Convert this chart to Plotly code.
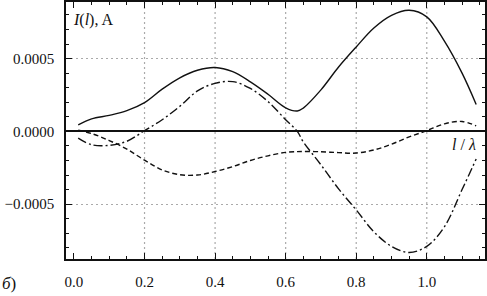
import plotly.graph_objects as go

# position along the wire, l / lambda
x_pos = [0.012, 0.05, 0.1, 0.15, 0.2, 0.25, 0.3, 0.35, 0.4, 0.45, 0.5, 0.55,
         0.6, 0.633, 0.65, 0.7, 0.75, 0.8, 0.85, 0.9, 0.95, 1.0, 1.05, 1.1, 1.14]

# |I(l)|, A  (solid)
i_abs = [0.45e-4, 0.86e-4, 1.10e-4, 1.42e-4, 1.97e-4, 2.90e-4, 3.68e-4, 4.20e-4,
         4.39e-4, 4.10e-4, 3.40e-4, 2.55e-4, 1.62e-4, 1.40e-4, 1.60e-4, 2.85e-4,
         4.42e-4, 5.80e-4, 7.10e-4, 7.97e-4, 8.32e-4, 7.87e-4, 6.20e-4, 4.00e-4,
         1.85e-4]

# Re I(l), A  (dash-dot)
i_re = [-0.46e-4, -0.92e-4, -0.96e-4, -0.68e-4, 0.05e-4, 0.80e-4, 1.72e-4, 2.78e-4,
        3.30e-4, 3.42e-4, 2.95e-4, 2.05e-4, 0.80e-4, 0.0e-4, -0.72e-4, -2.30e-4,
        -3.95e-4, -5.40e-4, -6.90e-4, -7.90e-4, -8.32e-4, -7.90e-4, -6.55e-4, -4.00e-4,
        -1.90e-4]

# Im I(l), A  (dashed)
i_im = [0.08e-4, -0.15e-4, -0.63e-4, -1.22e-4, -1.98e-4, -2.65e-4, -2.98e-4, -3.00e-4,
        -2.76e-4, -2.42e-4, -2.00e-4, -1.68e-4, -1.44e-4, -1.39e-4, -1.38e-4, -1.40e-4,
        -1.46e-4, -1.49e-4, -1.28e-4, -0.88e-4, -0.38e-4, 0.05e-4, 0.52e-4, 0.68e-4,
        0.38e-4]

x_ticks = [0.0, 0.2, 0.4, 0.6, 0.8, 1.0]
x_grid = [0.2, 0.4, 0.6, 0.8, 1.0]
y_ticks = [-0.0005, 0.0, 0.0005]

FONT = "Liberation Serif"

fig = go.Figure()
fig.add_trace(go.Scatter(x=x_pos, y=i_abs, mode="lines",
                         line=dict(color="#111", width=1.4, shape="spline", smoothing=1.0)))
fig.add_trace(go.Scatter(x=x_pos, y=i_re, mode="lines",
                         line=dict(color="#111", width=1.4, shape="spline", smoothing=1.0,
                                   dash="9px,3px,2px,3px")))
fig.add_trace(go.Scatter(x=x_pos, y=i_im, mode="lines",
                         line=dict(color="#111", width=1.4, shape="spline", smoothing=1.0,
                                   dash="5px,3px")))

for xv in x_grid:
    fig.add_vline(x=xv, line=dict(color="#aaaaaa", width=1.2, dash="2px,3px"), layer="below")

fig.update_layout(
    width=487, height=296,
    margin=dict(l=66, r=0, t=0, b=37),
    paper_bgcolor="white", plot_bgcolor="white",
    showlegend=False,
    font=dict(family=FONT, size=15, color="#111"),
    xaxis=dict(
        range=[-0.02257, 1.165],
        tickvals=x_ticks, tickformat=".1f",
        ticks="inside", ticklen=6, tickwidth=1.3, tickcolor="#111",
        showline=True, linecolor="#111", linewidth=1.5, mirror="allticks",
        showgrid=False, zeroline=False,
        minor=dict(dtick=0.05, tick0=0, ticks="inside", ticklen=3, tickwidth=1, tickcolor="#111"),
        tickfont=dict(family=FONT, size=15),
        ticklabelstandoff=8,
    ),
    yaxis=dict(
        range=[-0.000877, 0.000889],
        tickvals=y_ticks, tickformat=".4f",
        ticks="inside", ticklen=6, tickwidth=1.3, tickcolor="#111",
        showline=True, linecolor="#111", linewidth=1.5, mirror="allticks",
        showgrid=True, gridcolor="#aaaaaa", gridwidth=1.2, griddash="2px,3px",
        zeroline=True, zerolinecolor="#111", zerolinewidth=2.2,
        minor=dict(dtick=0.0001, tick0=0, ticks="inside", ticklen=3, tickwidth=1, tickcolor="#111"),
        tickfont=dict(family=FONT, size=15),
        ticklabelstandoff=7,
    ),
    annotations=[
        dict(text="<i>I</i>(<i>l</i>), A", xref="paper", yref="paper",
             x=(71.5 - 66) / 421, y=1 - 18.5 / 259, xanchor="left", yanchor="middle",
             showarrow=False, font=dict(family=FONT, size=16)),
        dict(text="<i>l</i> / <i>λ</i>", xref="paper", yref="paper",
             x=(480 - 66) / 421, y=1 - 144 / 259, xanchor="right", yanchor="middle",
             showarrow=False, font=dict(family=FONT, size=16)),
        dict(text="<i>б</i>)", xref="paper", yref="paper",
             x=-66 / 421, y=1 - 284 / 259, xanchor="left", yanchor="middle",
             showarrow=False, font=dict(family=FONT, size=17)),
    ],
)

fig.write_html(
    "out.html",
    config={"displayModeBar": False},
    post_script="document.body.style.margin='0px';document.body.style.overflow='hidden';",
)
